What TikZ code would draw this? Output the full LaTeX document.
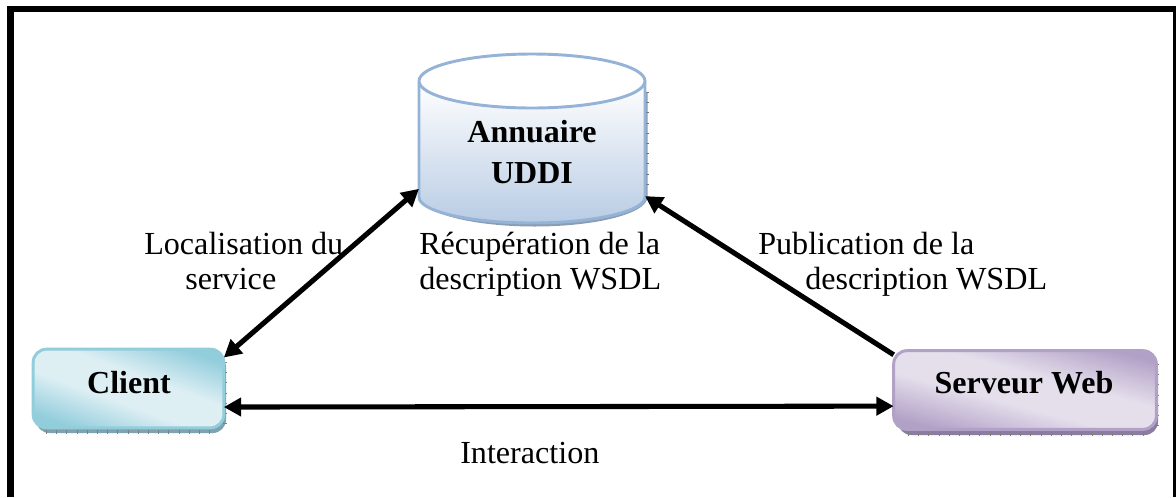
\documentclass[tikz,border=0pt]{standalone}
\usepackage{fontspec}
\setmainfont{Liberation Serif}
\usetikzlibrary{arrows.meta}
\definecolor{cd}{HTML}{92CDDC}
\definecolor{cl}{HTML}{DEEFF4}
\definecolor{pd}{HTML}{B2A1C7}
\definecolor{pl}{HTML}{E5DFEC}
\definecolor{cline}{HTML}{92CDDC}
\definecolor{pline}{HTML}{B2A1C7}
\definecolor{uline}{HTML}{95B3D7}
\definecolor{ubot}{HTML}{B8CCE4}
\definecolor{ushadow}{HTML}{8A9DB5}
\definecolor{cshadow}{HTML}{7FA3AE}
\definecolor{pshadow}{HTML}{8B7DA0}
\pgfdeclareverticalshading{clishade}{100bp}{
  color(0bp)=(cd);color(24bp)=(cd);color(43bp)=(cl);color(57bp)=(cl);color(76bp)=(cd);color(100bp)=(cd)}
\pgfdeclareverticalshading{srvshade}{100bp}{
  color(0bp)=(pd);color(24bp)=(pd);color(43bp)=(pl);color(57bp)=(pl);color(76bp)=(pd);color(100bp)=(pd)}
\tikzset{
  x=0.75pt,y=-0.75pt,
  frameline/.style={draw=black,line width=5pt},
  lbl/.style={font=\fontsize{24.1}{30}\selectfont,anchor=base west,inner sep=0pt,text=black},
  ttl/.style={font=\fontsize{24}{30}\selectfont\bfseries,anchor=base,inner sep=0pt,text=black},
  twoway/.style={draw=black,line width=3.8pt,{Triangle[length=13pt,width=13.5pt]}-{Triangle[length=13pt,width=13.5pt]}},
  oneway/.style={draw=black,line width=3.8pt,-{Triangle[length=13pt,width=13.5pt]}},
  boxnode/.style={rectangle,inner sep=0pt,outer sep=0pt,rounded corners=10pt,line width=2.2pt,minimum height=59pt},
  ticks/.style={line width=3pt,dash pattern=on 0.45pt off 7.2pt},
}
\begin{document}
\begin{tikzpicture}
\useasboundingbox (0,0) rectangle (1176,497);
\fill[white] (0,0) rectangle (1176,497);
% frame
\draw[frameline] (10.5,497) -- (10.5,9) -- (1176,9);
\fill[black] (1173,6) rectangle (1176,497);
% annuaire shadow and body
\fill[ushadow] (421,92) -- (647.5,92) -- (647.5,197) arc[start angle=0,end angle=180,x radius=113,y radius=29.5] -- cycle;
\draw[black!55,ticks] (646.5,92) -- (646.5,190);
\shade[top color=white,bottom color=ubot] (419,82) -- (419,197) arc[start angle=180,end angle=0,x radius=113,y radius=26] -- (645,82) -- cycle;
\draw[uline,line width=2.2pt] (419,82) -- (419,197) arc[start angle=180,end angle=0,x radius=113,y radius=26] -- (645,82);
\filldraw[fill=white,draw=uline,line width=2.2pt] (532,81) ellipse[x radius=113,y radius=27];
\node[rectangle,inner sep=0pt,outer sep=0pt,minimum width=169.5pt,minimum height=126.75pt] (uddi) at (532,138.5) {};
\node[ttl] (uddia) at (532,142) {Annuaire};
\node[ttl] (uddib) at (532,183) {UDDI};
% client
\fill[cshadow,rounded corners=10pt] (36,354) rectangle (226,433);
\draw[black!50,ticks] (46,431.5) -- (218,431.5);
\draw[black!50,ticks] (225,362) -- (225,425);
\node[boxnode,draw=cline,shading=clishade,shading angle=-20,minimum width=143pt] (client) at (128.5,388.5) {};
\node[ttl] (clientt) at (129,393) {Client};
% server
\fill[pshadow,rounded corners=10pt] (898,356) rectangle (1158,435);
\draw[black!50,ticks] (908,433.5) -- (1150,433.5);
\draw[black!50,ticks] (1157,364) -- (1157,427);
\node[boxnode,draw=pline,shading=srvshade,shading angle=-15,minimum width=197pt] (server) at (1025,390) {};
\node[ttl] (servert) at (1024,393) {Serveur Web};
% connectors
\draw[twoway] (client.18.8) -- (uddi.204.1);
\draw[twoway] (client.-11.5) -- (server.187.8);
\draw[oneway] (server.165.1) -- (uddi.-27.4);
% labels
\node[lbl] (l1a) at (144,254) {Localisation du};
\node[lbl] (l1b) at (185,289) {service};
\node[lbl] (l2a) at (419,254) {Récupération de la};
\node[lbl] (l2b) at (419,289) {description WSDL};
\node[lbl] (l3a) at (758,254) {Publication de la};
\node[lbl] (l3b) at (805,289) {description WSDL};
\node[lbl] (l4) at (460,463) {Interaction};
\end{tikzpicture}
\end{document}
